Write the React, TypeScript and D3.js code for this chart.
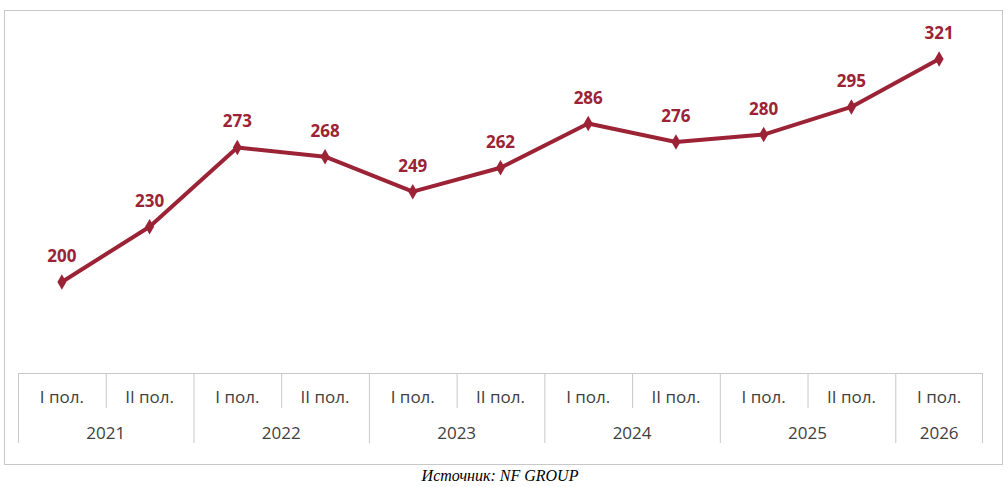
import React from 'react';
import * as d3 from 'd3';

const halves = ['I пол.', 'II пол.', 'I пол.', 'II пол.', 'I пол.', 'II пол.', 'I пол.', 'II пол.', 'I пол.', 'II пол.', 'I пол.'];
const years = ['2021', '2022', '2023', '2024', '2025', '2026'];
const yearSpans = [2, 2, 2, 2, 2, 1];
const values = [200, 230, 273, 268, 249, 262, 286, 276, 280, 295, 321];

const COLOR = '#9b2335';
const GRID = '#c8c8c8';
const FONT = '"Open Sans", Lato, sans-serif';

export default function App() {
  const W = 1008, H = 487;
  const x = d3.scaleBand<number>().domain(d3.range(values.length)).range([18, 983]);
  const y = d3.scaleLinear().domain([200, 321]).range([282, 59]);
  const line = d3.line<number>().x((_, i) => x(i)! + x.bandwidth() / 2).y(d => y(d));
  const diamond = d3.symbol().type(d3.symbolDiamond).size(70)();

  let acc = 0;
  const yearCells = years.map((yr, k) => {
    const start = acc;
    acc += yearSpans[k];
    return { yr, x0: x(start)!, x1: x(acc - 1)! + x.bandwidth() };
  });

  return (
    <svg width={W} height={H} style={{ position: 'absolute', left: 0, top: 0 }}>
      <rect x={4.5} y={10.5} width={998} height={454} fill="#fff" stroke={GRID} />
      <line x1={18} x2={983} y1={373.5} y2={373.5} stroke={GRID} />
      {halves.map((h, i) => (
        <g key={i}>
          {i % 2 === 1 && (
            <line x1={x(i)! + 0.5} x2={x(i)! + 0.5} y1={373} y2={408} stroke={GRID} />
          )}
          <text x={x(i)! + x.bandwidth() / 2} y={403} textAnchor="middle" fontFamily={FONT} fontSize={17} fill="#404040">{h}</text>
        </g>
      ))}
      {yearCells.map((c, k) => (
        <g key={k}>
          <line x1={c.x0 + 0.5} x2={c.x0 + 0.5} y1={373} y2={443} stroke={GRID} />
          {k === yearCells.length - 1 && (
            <line x1={c.x1 - 0.5} x2={c.x1 - 0.5} y1={373} y2={443} stroke={GRID} />
          )}
          <text x={(c.x0 + c.x1) / 2} y={439} textAnchor="middle" fontFamily={FONT} fontSize={17} fill="#404040">{c.yr}</text>
        </g>
      ))}
      <path d={line(values)!} fill="none" stroke={COLOR} strokeWidth={4} strokeLinejoin="round" />
      {values.map((v, i) => {
        const cx = x(i)! + x.bandwidth() / 2;
        return (
          <g key={i}>
            <path d={diamond!} transform={`translate(${cx},${y(v)})`} fill={COLOR} />
            <text x={cx} y={y(v) - 20} textAnchor="middle" fontFamily={FONT} fontWeight={700} fontSize={17} fill={COLOR}>{v}</text>
          </g>
        );
      })}
      <text x={500} y={481} textAnchor="middle" fontFamily='"Liberation Serif", serif' fontStyle="italic" fontSize={16} fill="#000">Источник: NF GROUP</text>
    </svg>
  );
}
